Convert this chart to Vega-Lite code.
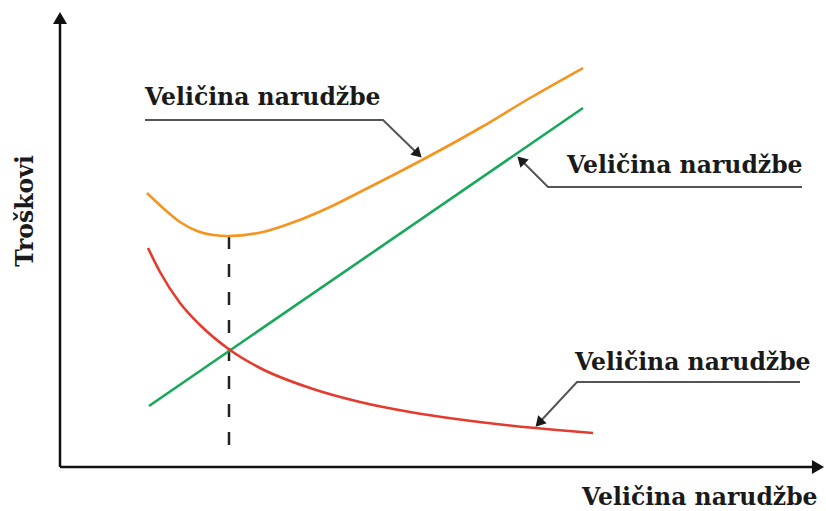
{
  "$schema": "https://vega.github.io/schema/vega-lite/v6.json",
  "width": 826,
  "height": 511,
  "autosize": {"type": "fit", "contains": "padding"},
  "padding": 0,
  "background": "white",
  "config": {"view": {"stroke": null}},
  "datasets": {
    "axes": [
      {"x": 0, "y": 0, "x2": 0, "y2": 446},
      {"x": 0, "y": 0, "x2": 754, "y2": 0}
    ],
    "axisHeads": [
      {"x": 0, "y": 449, "shape": "triangle-up"},
      {"x": 758, "y": 0, "shape": "triangle-right"}
    ],
    "curves": [
      {"series": "total", "x": 87, "y": 274},
      {"series": "total", "x": 103, "y": 259},
      {"series": "total", "x": 120, "y": 245},
      {"series": "total", "x": 137, "y": 236},
      {"series": "total", "x": 153, "y": 232},
      {"series": "total", "x": 168, "y": 231},
      {"series": "total", "x": 203, "y": 235},
      {"series": "total", "x": 237, "y": 246},
      {"series": "total", "x": 270, "y": 260},
      {"series": "total", "x": 300, "y": 275},
      {"series": "total", "x": 362, "y": 307},
      {"series": "total", "x": 420, "y": 339},
      {"series": "total", "x": 470, "y": 369},
      {"series": "total", "x": 523, "y": 399},
      {"series": "holding", "x": 89, "y": 61},
      {"series": "holding", "x": 523, "y": 359},
      {"series": "ordering", "x": 88, "y": 219},
      {"series": "ordering", "x": 100, "y": 195},
      {"series": "ordering", "x": 120, "y": 164},
      {"series": "ordering", "x": 140, "y": 142},
      {"series": "ordering", "x": 170, "y": 117},
      {"series": "ordering", "x": 200, "y": 99},
      {"series": "ordering", "x": 250, "y": 79},
      {"series": "ordering", "x": 300, "y": 65},
      {"series": "ordering", "x": 350, "y": 55},
      {"series": "ordering", "x": 400, "y": 47.5},
      {"series": "ordering", "x": 450, "y": 41.5},
      {"series": "ordering", "x": 500, "y": 36.7},
      {"series": "ordering", "x": 533, "y": 34}
    ],
    "dash": [{"x": 169, "y": 231, "y2": 10}],
    "leaders": [
      {"id": "a", "seq": 1, "x": 85, "y": 347},
      {"id": "a", "seq": 2, "x": 323, "y": 347},
      {"id": "a", "seq": 3, "x": 360, "y": 311},
      {"id": "b", "seq": 1, "x": 742, "y": 280},
      {"id": "b", "seq": 2, "x": 488, "y": 280},
      {"id": "b", "seq": 3, "x": 459, "y": 309},
      {"id": "c", "seq": 1, "x": 740, "y": 85},
      {"id": "c", "seq": 2, "x": 517, "y": 85},
      {"id": "c", "seq": 3, "x": 477, "y": 42}
    ],
    "heads": [
      {"x": 358, "y": 313, "angle": 134},
      {"x": 461, "y": 307, "angle": 315},
      {"x": 479, "y": 44, "angle": 223}
    ],
    "labels": [
      {"x": 85, "y": 362, "text": "Veličina narudžbe"},
      {"x": 507, "y": 294, "text": "Veličina narudžbe"},
      {"x": 515, "y": 97, "text": "Veličina narudžbe"},
      {"x": 522, "y": -38, "text": "Veličina narudžbe"}
    ],
    "ytitle": [{"x": -27, "y": 256, "text": "Troškovi"}]
  },
  "layer": [
    {
      "data": {"name": "axes"},
      "mark": {"type": "rule", "color": "#111111", "strokeWidth": 2.5},
      "encoding": {
        "x": {"field": "x", "type": "quantitative", "scale": {"domain": [-60, 766], "nice": false, "zero": false}, "axis": null},
        "y": {"field": "y", "type": "quantitative", "scale": {"domain": [-44, 467], "nice": false, "zero": false}, "axis": null},
        "x2": {"field": "x2"},
        "y2": {"field": "y2"}
      }
    },
    {
      "data": {"name": "axisHeads"},
      "mark": {"type": "point", "filled": true, "color": "#111111", "opacity": 1, "size": 196},
      "encoding": {
        "x": {"field": "x", "type": "quantitative"},
        "y": {"field": "y", "type": "quantitative"},
        "shape": {"field": "shape", "type": "nominal", "scale": null}
      }
    },
    {
      "data": {"name": "dash"},
      "mark": {"type": "rule", "color": "#222222", "strokeWidth": 2.5, "strokeDash": [13, 15]},
      "encoding": {
        "x": {"field": "x", "type": "quantitative"},
        "y": {"field": "y", "type": "quantitative"},
        "y2": {"field": "y2"}
      }
    },
    {
      "data": {"name": "curves"},
      "mark": {"type": "line", "strokeWidth": 2.6, "interpolate": "monotone"},
      "encoding": {
        "x": {"field": "x", "type": "quantitative"},
        "y": {"field": "y", "type": "quantitative"},
        "color": {"field": "series", "type": "nominal", "scale": {"domain": ["total", "holding", "ordering"], "range": ["#F5941F", "#17A85A", "#E53A2E"]}, "legend": null}
      }
    },
    {
      "data": {"name": "leaders"},
      "mark": {"type": "line", "color": "#555555", "strokeWidth": 2},
      "encoding": {
        "x": {"field": "x", "type": "quantitative"},
        "y": {"field": "y", "type": "quantitative"},
        "detail": {"field": "id"},
        "order": {"field": "seq", "type": "quantitative"}
      }
    },
    {
      "data": {"name": "heads"},
      "mark": {"type": "point", "shape": "triangle-up", "filled": true, "color": "#1a1a1a", "opacity": 1, "size": 135},
      "encoding": {
        "x": {"field": "x", "type": "quantitative"},
        "y": {"field": "y", "type": "quantitative"},
        "angle": {"field": "angle", "type": "quantitative", "scale": null}
      }
    },
    {
      "data": {"name": "labels"},
      "mark": {"type": "text", "align": "left", "baseline": "alphabetic", "font": "DejaVu Serif", "fontWeight": "bold", "fontSize": 23.5, "color": "#1a1a1a"},
      "encoding": {
        "x": {"field": "x", "type": "quantitative"},
        "y": {"field": "y", "type": "quantitative"},
        "text": {"field": "text"}
      }
    },
    {
      "data": {"name": "ytitle"},
      "mark": {"type": "text", "align": "center", "baseline": "alphabetic", "angle": 270, "font": "DejaVu Serif", "fontWeight": "bold", "fontSize": 23.5, "color": "#1a1a1a"},
      "encoding": {
        "x": {"field": "x", "type": "quantitative"},
        "y": {"field": "y", "type": "quantitative"},
        "text": {"field": "text"}
      }
    }
  ]
}
